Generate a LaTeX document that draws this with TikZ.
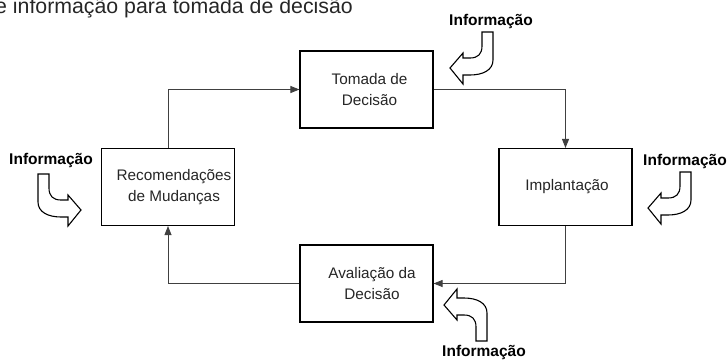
\documentclass[tikz,border=0pt]{standalone}
\usepackage{fontspec}
\setmainfont{Liberation Sans}
\usetikzlibrary{arrows.meta}
\tikzset{
  box/.style={draw=black, line width=1.1pt, minimum width=133pt, minimum height=77pt, inner sep=0pt, fill=white},
  boxtext/.style={align=center, font=\fontsize{15.3}{21}\selectfont, text=black!85, inner sep=0pt},
  infolabel/.style={font=\bfseries\fontsize{15.5}{18}\selectfont, inner sep=0pt},
  conn/.style={draw=black!75, line width=0.9pt, -{Triangle[length=9pt,width=7pt]}},
  infoarrow/.style={draw=black, line width=1.1pt, fill=white, line join=miter},
  bent/.pic={
    \path[infoarrow] (0,0) -- (13,-15) -- (13,-10) -- (20,-10)
      .. controls (28,-10) and (32,-14) .. (32,-22) -- (32,-36) -- (43,-36) -- (43,-8)
      .. controls (43,2) and (33,7) .. (20,7) -- (13,7) -- (13,16) -- cycle;
  }
}
\begin{document}
\begin{tikzpicture}[x=1pt, y=-1pt]
\useasboundingbox (0,0) rectangle (728,359);
% title
\node[anchor=base west, inner sep=0pt, font=\fontsize{21.3}{24}\selectfont, text=black!85] (title) at (-5,13) {e informação para tomada de decisão};
% boxes
\node[box] (tom) at (366.5,89.5) {};
\node[box] (rec) at (168,187) {};
\node[box] (imp) at (565.5,187) {};
\node[box] (ava) at (366.5,283.5) {};
\node[boxtext] (tomt) at (369.5,89.5) {Tomada de\\Decisão};
\node[boxtext] (rect) at (174,187.5) {Recomendações\\de Mudanças};
\node[boxtext] (impt) at (567,187) {Implantação};
\node[boxtext] (avat) at (372,284) {Avaliação da\\Decisão};
% connectors
\draw[conn] (rec.north) |- (tom.west);
\draw[conn] (tom.east) -| (imp.north);
\draw[conn] (imp.south) |- (ava.east);
\draw[conn] (ava.west) -| (rec.south);
% information arrows
\pic at (450,68) {bent};
\pic at (648,208) {bent};
\pic[xscale=-1] at (81,210) {bent};
\pic[yscale=-1] at (444,305) {bent};
% labels
\node[infolabel] (i1) at (491,21) {Informação};
\node[infolabel] (i2) at (51,160) {Informação};
\node[infolabel] (i3) at (685,161) {Informação};
\node[infolabel] (i4) at (484,352) {Informação};
\end{tikzpicture}
\end{document}
